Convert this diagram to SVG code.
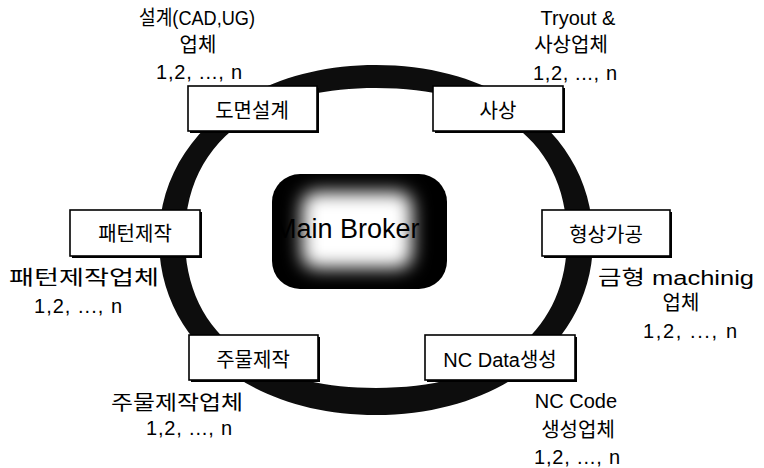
<svg xmlns="http://www.w3.org/2000/svg" width="764" height="468" viewBox="0 0 764 468">
<style>
.t{font-family:"Liberation Sans","Noto Sans CJK KR",sans-serif;font-size:20px;fill:#000;text-anchor:middle}
.bx{fill:#fff;stroke:#000;stroke-width:1.6}
.sh{fill:#000}
.ring{fill:#0d0d0d;fill-rule:evenodd}
</style>
<defs>
<filter id="blur" x="-40%" y="-40%" width="180%" height="180%"><feGaussianBlur stdDeviation="9"/></filter>
<clipPath id="mbclip"><rect x="272" y="174" width="175" height="115" rx="28"/></clipPath>
</defs>
<rect width="764" height="468" fill="#fff"/>
<g id="connectors">
<path class="ring" d="M159,240 C159,138.5 250.1,65 376,65 C501.9,65 593,138.5 593,240 C593,341.5 501.9,415 376,415 C250.1,415 159,341.5 159,240 Z M185,238 C185,143.5 255.7,88 376,88 C496.3,88 567,143.5 567,238 C567,332.5 496.3,388 376,388 C255.7,388 185,332.5 185,238 Z"/>
</g>
<g id="main-broker">
<rect x="272" y="174" width="175" height="115" rx="28" fill="#000"/>
<g clip-path="url(#mbclip)"><rect x="302" y="192" width="110" height="76" rx="14" fill="#fff" filter="url(#blur)"/></g>
<text class="t" x="274" y="238" style="text-anchor:start;font-size:27px">Main Broker</text>
</g>
<g id="node-domyeon">
<rect class="sh" x="190" y="88" width="129" height="45"/>
<rect class="bx" x="188" y="86" width="129" height="45"/>
<text class="t" x="252" y="118">도면설계</text>
</g>
<g id="node-sasang">
<rect class="sh" x="435" y="88" width="130" height="45"/>
<rect class="bx" x="433" y="86" width="130" height="45"/>
<text class="t" x="498" y="118">사상</text>
</g>
<g id="node-hyeongsang">
<rect class="sh" x="544" y="212" width="128" height="46"/>
<rect class="bx" x="542" y="210" width="128" height="46"/>
<text class="t" x="606" y="242">형상가공</text>
</g>
<g id="node-pattern">
<rect class="sh" x="72" y="212" width="130" height="46"/>
<rect class="bx" x="70" y="210" width="130" height="46"/>
<text class="t" x="135" y="241">패턴제작</text>
</g>
<g id="node-jumul">
<rect class="sh" x="191" y="337" width="129" height="45"/>
<rect class="bx" x="189" y="335" width="129" height="45"/>
<text class="t" x="253" y="367">주물제작</text>
</g>
<g id="node-ncdata">
<rect class="sh" x="427" y="337" width="150" height="45"/>
<rect class="bx" x="425" y="335" width="150" height="45"/>
<text class="t" x="500" y="367">NC Data생성</text>
</g>
<g id="label-design">
<text class="t" x="197" y="25" textLength="116" lengthAdjust="spacingAndGlyphs">설계(CAD,UG)</text>
<text class="t" x="198" y="52">업체</text>
<text class="t" x="199" y="79" textLength="86" lengthAdjust="spacing">1,2, ..., n</text>
</g>
<g id="label-tryout">
<text class="t" x="578" y="25">Tryout &amp;</text>
<text class="t" x="571" y="52">사상업체</text>
<text class="t" x="575" y="80" textLength="84" lengthAdjust="spacing">1,2, ..., n</text>
</g>
<g id="label-pattern">
<text class="t" x="84" y="285" textLength="150" lengthAdjust="spacingAndGlyphs">패턴제작업체</text>
<text class="t" x="78" y="313" textLength="88" lengthAdjust="spacing">1,2, ..., n</text>
</g>
<g id="label-mold">
<text class="t" x="676" y="285" textLength="156" lengthAdjust="spacingAndGlyphs">금형 machinig</text>
<text class="t" x="681" y="310">업체</text>
<text class="t" x="690" y="338" textLength="94" lengthAdjust="spacing">1,2, ..., n</text>
</g>
<g id="label-jumul">
<text class="t" x="177" y="410" textLength="132" lengthAdjust="spacingAndGlyphs">주물제작업체</text>
<text class="t" x="189" y="435" textLength="86" lengthAdjust="spacing">1,2, ..., n</text>
</g>
<g id="label-nccode">
<text class="t" x="576" y="408">NC Code</text>
<text class="t" x="578" y="437">생성업체</text>
<text class="t" x="577" y="464" textLength="86" lengthAdjust="spacing">1,2, ..., n</text>
</g>
</svg>
